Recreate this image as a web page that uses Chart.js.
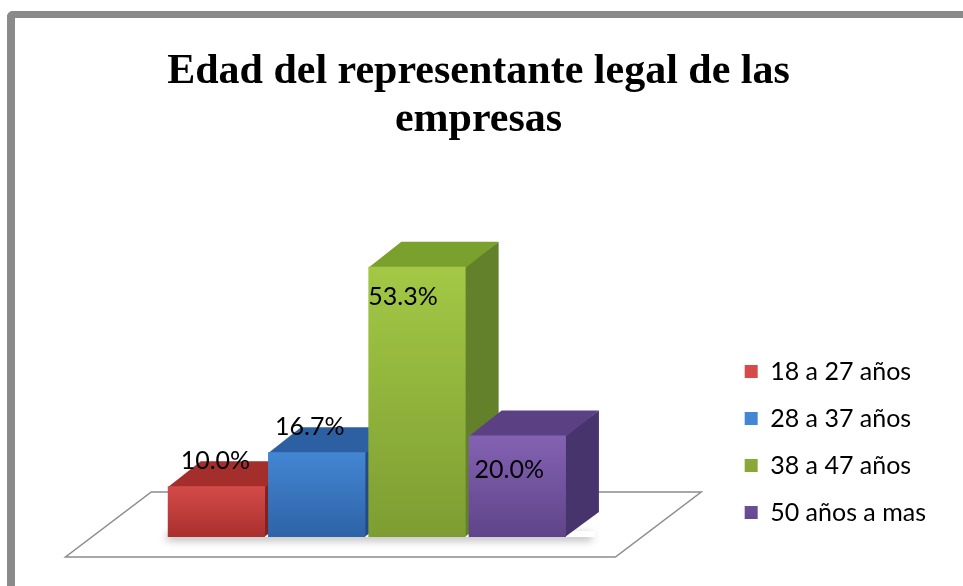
<!DOCTYPE html>
<html><head><meta charset="utf-8">
<script src="https://cdn.jsdelivr.net/npm/chart.js@4/dist/chart.umd.min.js"></script>
<style>
html,body{margin:0;padding:0;background:#fff;width:963px;height:586px;overflow:hidden}
#frame{position:absolute;left:7px;top:11px;width:1000px;height:700px;border-top:7px solid #8a8a8a;border-left:8px solid #8a8a8a;border-top-left-radius:6px;box-sizing:border-box}
#wrap{position:absolute;left:0;top:0;width:963px;height:586px}
</style></head><body>
<div id="frame"></div>
<div id="wrap"><canvas id="c" width="963" height="586"></canvas></div>
<script>
const titleLines = ['Edad del representante legal de las', 'empresas'];
const categories = ['18 a 27 años', '28 a 37 años', '38 a 47 años', '50 años a mas'];
const values = [10.0, 16.7, 53.3, 20.0];

const frontTop = ['#D44B49', '#4386D3', '#A3C845', '#8462B3'];
const frontBottom = ['#A9302E', '#2E63A6', '#7D9D32', '#5F4489'];
const topFace = ['#A32E2C', '#2D60A3', '#7AA02E', '#5B4184'];
const sideFace = ['#7F2322', '#244C84', '#62812A', '#47346C'];
const legendColor = ['#C23A37', '#3A76C2', '#94BA3E', '#7254A0'];

const DX = 33, DY = -25;
const labelPlace = [
  {dx: -1, mode: 'back', dy: 0},
  {dx: -7, mode: 'back', dy: 0},
  {dx: -14, mode: 'inside', dy: 30},
  {dx: -8, mode: 'inside', dy: 34}
];

const bars3d = {
  id: 'bars3d',
  beforeDatasetsDraw(chart) {
    const ctx = chart.ctx;
    const els = chart.data.datasets.map((d, i) => chart.getDatasetMeta(i).data[0]);
    const first = els[0], last = els[els.length - 1];
    const gl = first.x - first.width / 2, gr = last.x + last.width / 2, base = first.base;
    const m = first.width * 0.78;
    ctx.save();
    ctx.beginPath();
    ctx.moveTo(gl - m - 0.8 * DX, base - 0.8 * DY);
    ctx.lineTo(gr + m - 0.8 * DX, base - 0.8 * DY);
    ctx.lineTo(gr + m + 1.8 * DX, base + 1.8 * DY);
    ctx.lineTo(gl - m + 1.8 * DX, base + 1.8 * DY);
    ctx.closePath();
    ctx.fillStyle = '#ffffff';
    ctx.fill();
    ctx.strokeStyle = '#8c8c8c';
    ctx.lineWidth = 1.5;
    ctx.stroke();
    ctx.save();
    ctx.shadowColor = 'rgba(0,0,0,0.35)';
    ctx.shadowBlur = 8;
    ctx.shadowOffsetX = -3;
    ctx.shadowOffsetY = 3;
    ctx.fillStyle = '#ffffff';
    ctx.fillRect(gl + 2, base - 6, gr - gl + DX - 6, 6);
    ctx.restore();
    els.forEach((b, i) => {
      const l = b.x - b.width / 2, r = b.x + b.width / 2, t = b.y, bs = b.base;
      ctx.beginPath();
      ctx.moveTo(r - 1, t);
      ctx.lineTo(r + DX, t + DY);
      ctx.lineTo(r + DX, bs + DY);
      ctx.lineTo(r - 1, bs);
      ctx.closePath();
      ctx.fillStyle = sideFace[i];
      ctx.fill();
      ctx.beginPath();
      ctx.moveTo(l, t + 1);
      ctx.lineTo(r, t + 1);
      ctx.lineTo(r + DX, t + DY);
      ctx.lineTo(l + DX, t + DY);
      ctx.closePath();
      ctx.fillStyle = topFace[i];
      ctx.fill();
    });
    ctx.restore();
  },
  afterDatasetsDraw(chart) {
    const ctx = chart.ctx;
    ctx.save();
    ctx.font = '25px Lato';
    ctx.fillStyle = '#000';
    ctx.textAlign = 'center';
    ctx.textBaseline = 'middle';
    chart.data.datasets.forEach((d, i) => {
      const b = chart.getDatasetMeta(i).data[0];
      const p = labelPlace[i];
      const y = p.mode === 'back' ? b.y + DY : b.y + p.dy;
      ctx.fillText(d.data[0].toFixed(1) + '%', b.x + p.dx, y);
    });
    ctx.restore();
  }
};

function frontColor(c) {
  const i = c.datasetIndex;
  if (c.type !== 'data') return legendColor[i];
  const chart = c.chart;
  const ys = chart.scales && chart.scales.y;
  if (!ys || !chart.chartArea) return legendColor[i];
  const top = ys.getPixelForValue(c.raw);
  const bot = ys.getPixelForValue(0);
  const g = chart.ctx.createLinearGradient(0, top, 0, bot);
  g.addColorStop(0, frontTop[i]);
  g.addColorStop(1, frontBottom[i]);
  return g;
}

new Chart(document.getElementById('c'), {
  type: 'bar',
  data: {
    labels: [''],
    datasets: categories.map((c, i) => ({
      label: c,
      data: [values[i]],
      backgroundColor: frontColor,
      borderWidth: 0,
      categoryPercentage: 0.58,
      barPercentage: 0.97
    }))
  },
  options: {
    responsive: false,
    animation: false,
    devicePixelRatio: 1,
    layout: {padding: {left: 21, right: 27, top: 0, bottom: 39}},
    scales: {
      x: {display: true, grid: {display: false}, border: {display: false}, ticks: {display: false},
          afterFit(s) { s.height = 10; }},
      y: {position: 'right', min: 0, max: 60, display: true, grid: {display: false}, border: {display: false},
          ticks: {display: false}, afterFit(s) { s.width = 10; }}
    },
    plugins: {
      title: {display: true, text: titleLines, color: '#000',
              font: {family: '"Liberation Serif", "Times New Roman", serif', size: 42, weight: 'bold', lineHeight: 1.14},
              padding: {top: 48, bottom: 89}},
      legend: {position: 'right', align: 'end',
               labels: {font: {family: 'Lato', size: 25}, color: '#000', boxWidth: 13, boxHeight: 13, padding: 22}},
      tooltip: {enabled: false}
    }
  },
  plugins: [bars3d]
});
</script>
</body></html>
